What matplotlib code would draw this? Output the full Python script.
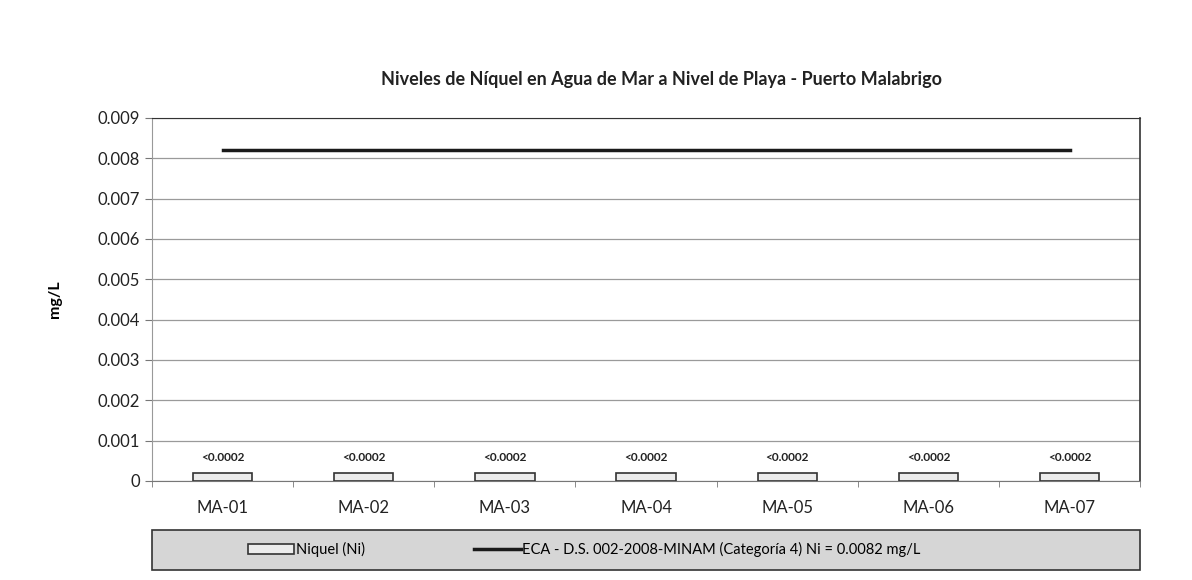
import numpy as np
import matplotlib.pyplot as plt
from matplotlib.patches import Rectangle

plt.rcParams['font.family'] = ['Lato', 'DejaVu Sans']

estaciones = ['MA-01', 'MA-02', 'MA-03', 'MA-04', 'MA-05', 'MA-06', 'MA-07']
niquel = [0.0002, 0.0002, 0.0002, 0.0002, 0.0002, 0.0002, 0.0002]
etiquetas = ['<0.0002'] * 7
eca = [0.0082] * 7

fig = plt.figure(figsize=(11.92, 5.80), dpi=100)
ax = fig.add_axes([0.1275, 0.1707, 0.829, 0.626])

x = np.arange(len(estaciones))
barras = ax.bar(x, niquel, width=0.42, color='#ececec', edgecolor='#333333', linewidth=1.2,
                label='Niquel (Ni)', zorder=3)
linea, = ax.plot(x, eca, color='#1a1a1a', linewidth=2.5,
                 label='ECA - D.S. 002-2008-MINAM (Categoría 4) Ni = 0.0082 mg/L', zorder=4)

for xi, v, t in zip(x, niquel, etiquetas):
    ax.text(xi, v + 0.00025, t, ha='center', va='bottom', fontsize=8.5,
            fontweight='bold', color='#222222')

ax.set_xlim(-0.5, len(estaciones) - 0.5)
ax.set_ylim(0, 0.009)
ax.set_yticks(np.arange(0, 0.0091, 0.001))
ax.set_yticklabels(['0', '0.001', '0.002', '0.003', '0.004', '0.005',
                    '0.006', '0.007', '0.008', '0.009'])
ax.set_xticks(x)
ax.set_xticklabels(estaciones)
ax.set_xticks(np.arange(-0.5, len(estaciones)), minor=True)
ax.tick_params(axis='x', which='major', length=0, labelsize=12, pad=14, colors='#222222')
ax.tick_params(axis='x', which='minor', length=4, color='#777777')
ax.tick_params(axis='y', labelsize=12, length=5, color='#777777', colors='#222222')
ax.grid(axis='y', color='#9a9a9a', linewidth=0.9, zorder=0)
ax.set_ylabel('mg/L', fontsize=11.5, fontweight='bold', labelpad=26)

ax.spines['top'].set_color('#333333')
ax.spines['right'].set_color('#333333')
ax.spines['right'].set_linewidth(1.2)
ax.spines['left'].set_color('#999999')
ax.spines['bottom'].set_color('#777777')

fig.text(0.555, 0.863, 'Niveles de Níquel en Agua de Mar a Nivel de Playa - Puerto Malabrigo',
         ha='center', va='center', fontsize=13, fontweight='bold', color='#222222')

# caja gris de la leyenda
fig.patches.append(Rectangle((0.1275, 0.018), 0.829, 0.068, transform=fig.transFigure,
                             facecolor='#d6d6d6', edgecolor='#333333', linewidth=1.2))
fig.legend(handles=[barras, linea], loc='center', bbox_to_anchor=(0.49, 0.052), ncol=2,
           frameon=False, fontsize=10.5, columnspacing=7.5, handlelength=3.2, handletextpad=0.1)

fig.savefig('out.png', dpi=100)
